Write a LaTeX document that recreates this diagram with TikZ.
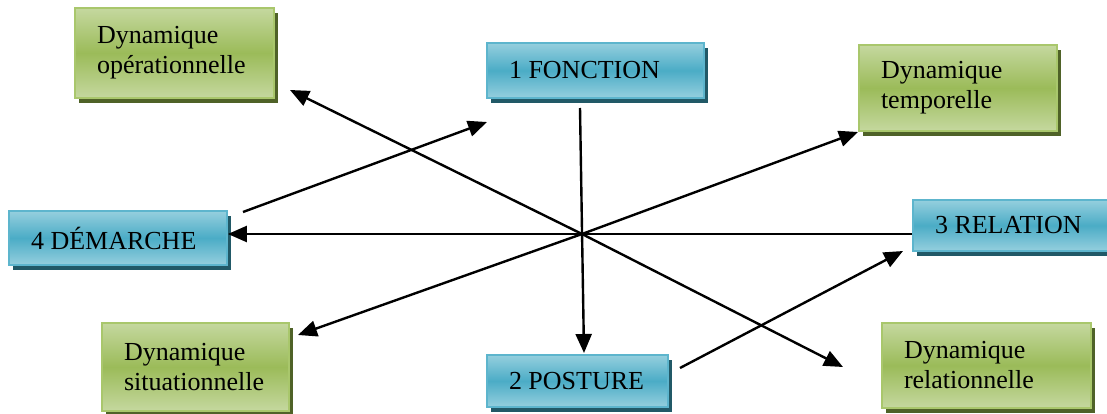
\documentclass[tikz,border=0pt]{standalone}
\usepackage{fontspec}
\setmainfont{Liberation Serif}
\usetikzlibrary{arrows.meta,shadows,calc}
\definecolor{bluetop}{HTML}{95CFDE}
\definecolor{bluemid}{HTML}{4BACC6}
\definecolor{blueborder}{HTML}{5DB5CD}
\definecolor{blueshadow}{HTML}{215967}
\definecolor{greentop}{HTML}{C5D89F}
\definecolor{greenmid}{HTML}{9BBB59}
\definecolor{greenborder}{HTML}{A9C76C}
\definecolor{greenshadow}{HTML}{4F6228}
\tikzset{
  boxbase/.style={line width=1.8pt, inner xsep=22pt, inner ysep=0pt, align=flush left,
    font=\fontsize{26}{30}\selectfont, anchor=center},
  bluebox/.style={boxbase, draw=blueborder, top color=bluetop, bottom color=bluetop, middle color=bluemid,
    drop shadow={shadow xshift=4pt, shadow yshift=-5pt, fill=blueshadow, opacity=1}},
  greenbox/.style={boxbase, draw=greenborder, top color=greentop, bottom color=greentop, middle color=greenmid,
    drop shadow={shadow xshift=4pt, shadow yshift=-5pt, fill=greenshadow, opacity=1}},
  conn/.style={line width=2.4pt, -{Triangle[length=19pt 0 0,width=16pt 0 0]}}
}
\begin{document}
\begin{tikzpicture}[x=1pt,y=-1pt]
\useasboundingbox (0,0) rectangle (1107,414);
% blue nodes
\node[bluebox, text width=173pt, minimum width=217pt, minimum height=55pt] (fon) at (595.5,70.5) {1 FONCTION};
\node[bluebox, text width=174pt, minimum width=218pt, minimum height=54pt] (dem) at (118,238) {4 DÉMARCHE};
\node[bluebox, text width=151pt, minimum width=195pt, minimum height=51pt] (rel) at (1010.5,225.5) {3 RELATION};
\node[bluebox, inner xsep=15pt, text width=151pt, minimum width=181pt, minimum height=52pt] (pos) at (577.5,381) {\hspace*{7pt}2 POSTURE};
% green nodes
\node[greenbox, text width=155pt, minimum width=199pt, minimum height=90pt] (op) at (174.5,53) {Dynamique\\opérationnelle};
\node[greenbox, text width=154pt, minimum width=198pt, minimum height=86pt] (temp) at (958,88) {Dynamique\\temporelle};
\node[greenbox, text width=143pt, minimum width=187pt, minimum height=88pt] (sit) at (195.5,367) {Dynamique\\situationnelle};
\node[greenbox, text width=165pt, minimum width=209pt, minimum height=85pt] (drel) at (986.5,365.5) {Dynamique\\relationnelle};
% free ends
\coordinate (c) at (582,234);
\coordinate (opTip) at (290,90);
\coordinate (drelTip) at (843,367);
\coordinate (sitTip) at (298,335);
\coordinate (tempTip) at (858,132);
\coordinate (fonStart) at (580,108);
\coordinate (posTip) at (584,353);
\coordinate (demStart) at (243,212);
\coordinate (fonTip) at (487,122);
\coordinate (posStart) at (680,368);
\coordinate (relTip) at (903,251);
% connectors
\draw[conn] (c) -- (opTip);
\draw[conn] (c) -- (drelTip);
\draw[conn] (c) -- (sitTip);
\draw[conn] (c) -- (tempTip);
\draw[conn] (fonStart) -- (posTip);
\draw[conn] (c -| rel.west) -- (c -| dem.east);
\draw[conn] (demStart) -- (fonTip);
\draw[conn] (posStart) -- (relTip);
\end{tikzpicture}
\end{document}
